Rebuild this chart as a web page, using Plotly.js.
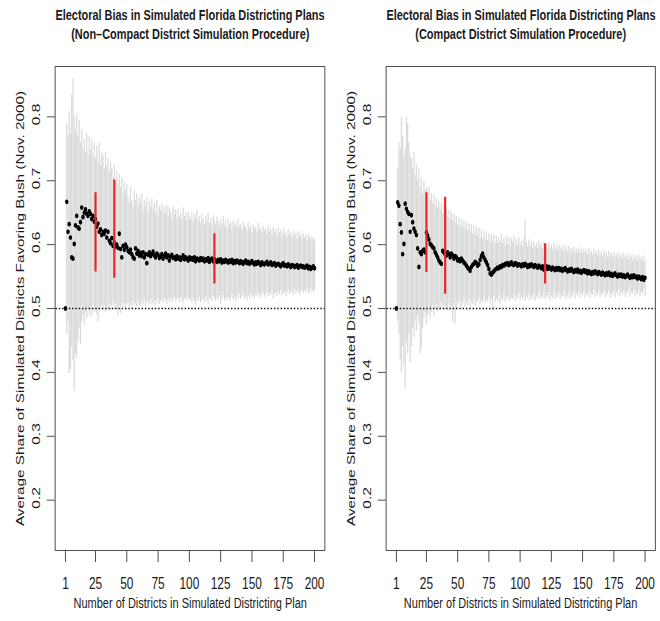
<!DOCTYPE html>
<html>
<head>
<meta charset="utf-8">
<script src="https://cdn.plot.ly/plotly-3.0.1.min.js"></script>
<style>
html,body{margin:0;padding:0;overflow:hidden;background:#fff;}
#chart{width:917px;height:621px;transform:scaleX(0.7197);transform-origin:0 0;}
</style>
</head>
<body>
<div id="chart"></div>
<script>
// ---- data ----
const districts = Array.from({length: 200}, (_, i) => i + 1);
const xTickVals = [1, 25, 50, 75, 100, 125, 150, 175, 200];
const yTickVals = [0.2, 0.3, 0.4, 0.5, 0.6, 0.7, 0.8];
const yTickText = ["0.2", "0.3", "0.4", "0.5", "0.6", "0.7", "0.8"];
const actualPlans = [25, 40, 120];

// Non-compact procedure
const ncMean = [
.500,.667,.620,.632,.611,.580,.578,.601,.630,.645,
.627,.625,.635,.658,.643,.650,.655,.648,.645,.652,
.648,.640,.645,.636,.640,.628,.633,.620,.624,.615,
.620,.617,.622,.611,.620,.606,.602,.610,.598,.603,
.597,.600,.595,.617,.593,.580,.598,.592,.600,.596,
.590,.588,.592,.585,.580,.578,.594,.586,.590,.583,
.587,.582,.588,.580,.585,.571,.584,.588,.582,.585,
.589,.583,.580,.586,.584,.579,.581,.585,.578,.582,
.586,.580,.583,.575,.581,.584,.579,.580,.577,.582,
.578,.580,.576,.579,.583,.577,.580,.578,.575,.580,
.577,.579,.576,.580,.574,.578,.577,.575,.579,.576,
.578,.574,.577,.575,.579,.573,.576,.578,.574,.577,
.575,.573,.576,.574,.577,.572,.575,.573,.576,.574,
.572,.575,.573,.576,.571,.574,.572,.575,.573,.571,
.574,.572,.570,.573,.575,.571,.573,.570,.572,.574,
.571,.569,.572,.570,.573,.571,.568,.572,.570,.569,
.571,.573,.569,.570,.572,.568,.570,.571,.567,.569,
.570,.568,.566,.569,.571,.567,.568,.566,.569,.567,
.565,.568,.567,.565,.566,.568,.564,.566,.567,.565,
.566,.564,.565,.567,.563,.565,.562,.564,.566,.563];
const ncHigh = [
.500,.790,.770,.810,.775,.835,.860,.800,.780,.805,
.770,.795,.760,.780,.750,.765,.745,.775,.740,.770,
.750,.765,.740,.760,.735,.755,.730,.760,.725,.745,
.740,.720,.745,.725,.735,.715,.730,.720,.705,.725,
.700,.715,.695,.710,.690,.705,.680,.700,.685,.695,
.675,.665,.690,.670,.660,.685,.670,.680,.660,.675,
.665,.680,.655,.670,.660,.675,.650,.668,.660,.672,
.655,.665,.650,.670,.645,.660,.655,.665,.648,.660,
.650,.662,.645,.658,.652,.640,.660,.648,.655,.642,
.656,.645,.650,.640,.658,.645,.650,.638,.652,.644,
.640,.650,.636,.648,.642,.655,.638,.645,.635,.648,
.640,.632,.645,.638,.650,.634,.642,.630,.646,.638,
.632,.644,.636,.628,.640,.633,.645,.630,.638,.626,
.640,.632,.636,.625,.638,.630,.634,.627,.640,.628,
.632,.624,.636,.628,.630,.622,.635,.626,.630,.620,
.632,.625,.628,.620,.634,.624,.627,.619,.630,.622,
.626,.618,.630,.621,.625,.616,.628,.620,.624,.615,
.627,.619,.622,.614,.625,.617,.621,.612,.624,.616,
.619,.612,.622,.615,.618,.610,.621,.613,.617,.609,
.618,.611,.615,.608,.617,.610,.613,.606,.612,.608];
const ncLow = [
.500,.460,.480,.398,.405,.440,.420,.372,.430,.424,
.450,.470,.445,.480,.490,.475,.495,.485,.500,.490,
.498,.488,.505,.495,.500,.492,.479,.502,.497,.505,
.498,.506,.494,.503,.500,.508,.497,.505,.510,.499,
.507,.500,.490,.504,.493,.510,.502,.508,.498,.506,
.511,.503,.508,.500,.512,.505,.509,.502,.513,.506,
.504,.511,.507,.514,.503,.509,.512,.506,.515,.508,
.510,.505,.513,.508,.516,.507,.511,.514,.509,.516,
.512,.507,.515,.510,.517,.509,.513,.518,.511,.514,
.516,.510,.518,.513,.509,.517,.514,.519,.512,.516,
.514,.508,.517,.511,.506,.515,.512,.518,.509,.513,
.516,.510,.519,.513,.507,.517,.514,.511,.520,.515,
.512,.518,.513,.520,.508,.516,.521,.512,.517,.514,
.519,.513,.517,.522,.514,.518,.511,.520,.516,.523,
.515,.519,.524,.516,.520,.513,.521,.517,.525,.518,
.520,.515,.523,.519,.525,.517,.522,.520,.526,.518,
.522,.527,.519,.524,.521,.528,.516,.523,.525,.520,
.526,.522,.529,.521,.524,.527,.519,.525,.530,.523,
.525,.528,.522,.531,.524,.526,.529,.521,.527,.530,
.524,.529,.526,.532,.523,.528,.531,.525,.529,.527];
const ncActualLow = [0.558, 0.548, 0.539];
const ncActualHigh = [0.682, 0.702, 0.618];

// Compact procedure
const cMean = [
.500,.666,.661,.632,.619,.585,.601,.664,.656,.651,
.648,.620,.646,.635,.625,.620,.615,.594,.565,.588,
.585,.590,.592,.588,.619,.614,.608,.601,.599,.596,
.594,.588,.584,.580,.575,.572,.570,.590,.588,.585,
.583,.588,.585,.580,.586,.583,.578,.582,.580,.575,
.577,.574,.578,.575,.572,.570,.567,.564,.562,.559,
.565,.568,.570,.573,.571,.567,.569,.576,.582,.586,
.580,.576,.572,.568,.562,.555,.553,.556,.558,.561,
.562,.564,.563,.566,.565,.568,.567,.570,.569,.571,
.568,.570,.572,.569,.568,.571,.570,.567,.569,.568,
.566,.569,.567,.570,.568,.565,.568,.566,.569,.567,
.565,.568,.566,.564,.567,.565,.563,.566,.561,.564,
.566,.562,.565,.563,.561,.564,.562,.560,.563,.561,
.563,.560,.562,.559,.561,.563,.560,.558,.561,.559,
.562,.559,.557,.560,.558,.561,.557,.559,.556,.558,
.560,.557,.559,.555,.558,.556,.554,.557,.555,.558,
.556,.554,.557,.555,.553,.556,.554,.552,.555,.553,
.556,.552,.554,.551,.553,.555,.552,.550,.553,.551,
.553,.550,.552,.549,.551,.553,.550,.548,.551,.549,
.552,.549,.550,.547,.550,.548,.546,.549,.545,.548];
const cHigh = [
.500,.720,.760,.750,.800,.770,.740,.750,.800,.790,
.760,.740,.735,.720,.745,.710,.725,.700,.720,.690,
.705,.680,.700,.685,.690,.675,.690,.670,.680,.665,
.678,.662,.672,.658,.668,.655,.665,.650,.662,.648,
.658,.645,.655,.640,.652,.638,.648,.635,.645,.632,
.642,.630,.640,.628,.638,.625,.636,.622,.633,.620,
.632,.618,.630,.616,.628,.615,.626,.612,.624,.610,
.622,.608,.620,.606,.618,.605,.616,.604,.615,.603,
.614,.603,.612,.605,.618,.602,.611,.600,.613,.601,
.612,.599,.610,.604,.615,.600,.609,.598,.612,.600,
.606,.598,.610,.640,.604,.597,.608,.600,.606,.596,
.605,.598,.603,.595,.607,.597,.602,.594,.604,.596,
.601,.593,.603,.595,.600,.592,.602,.594,.599,.591,
.600,.593,.597,.590,.599,.592,.596,.589,.598,.591,
.595,.588,.597,.590,.594,.587,.596,.589,.593,.586,
.594,.588,.592,.585,.595,.587,.591,.584,.593,.586,
.590,.583,.592,.585,.589,.582,.591,.584,.588,.581,
.590,.583,.587,.580,.589,.582,.586,.579,.588,.581,
.585,.578,.587,.580,.584,.577,.586,.579,.583,.576,
.585,.578,.582,.575,.584,.577,.581,.574,.583,.576];
const cLow = [
.500,.480,.460,.420,.400,.440,.410,.375,.450,.430,
.460,.416,.440,.470,.455,.480,.465,.490,.475,.430,
.440,.470,.485,.495,.475,.490,.500,.485,.495,.505,
.490,.500,.508,.495,.503,.498,.510,.500,.506,.497,
.505,.500,.509,.496,.503,.480,.507,.476,.500,.510,
.505,.512,.500,.508,.514,.503,.510,.506,.515,.502,
.511,.507,.516,.504,.512,.509,.517,.506,.513,.510,
.518,.508,.514,.511,.519,.507,.515,.497,.520,.509,
.516,.511,.521,.508,.517,.513,.522,.510,.518,.514,
.520,.512,.517,.515,.523,.511,.519,.516,.524,.513,
.518,.514,.522,.512,.519,.516,.524,.513,.520,.515,
.523,.512,.519,.516,.525,.514,.520,.517,.526,.515,
.521,.518,.525,.513,.520,.517,.526,.515,.522,.518,
.525,.514,.521,.519,.527,.516,.522,.518,.526,.515,
.522,.519,.527,.516,.523,.520,.528,.517,.524,.521,
.527,.516,.523,.520,.528,.517,.524,.521,.529,.518,
.525,.521,.528,.517,.524,.522,.529,.518,.525,.522,
.528,.517,.524,.521,.529,.518,.525,.522,.530,.519,
.526,.522,.529,.518,.525,.523,.530,.519,.526,.523,
.529,.518,.525,.522,.530,.519,.526,.524,.531,.520];
const cActualLow = [0.557, 0.523, 0.539];
const cActualHigh = [0.682, 0.675, 0.602];

// ---- build ----
function segments(xv, lo, hi) {
  const x = [], y = [];
  xv.forEach((v, i) => { x.push(v, v, null); y.push(lo[i], hi[i], null); });
  return {x, y};
}
const FONT = "Liberation Sans, Arial, Helvetica, sans-serif";
const INK = "#1a1a1a";
const GRAY = "#dadada";
const RED = "#e8262c";

function panel(mean, lo, hi, aLo, aHi, xa, ya) {
  const g = segments(districts, lo, hi);
  const r = segments(actualPlans, aLo, aHi);
  return [
    {type: "scatter", mode: "lines", x: g.x, y: g.y, xaxis: xa, yaxis: ya,
     line: {color: GRAY, width: 1.7}, connectgaps: false, hoverinfo: "skip", showlegend: false},
    {type: "scatter", mode: "markers", x: districts, y: mean, xaxis: xa, yaxis: ya,
     marker: {color: "#000", size: 4.8}, showlegend: false},
    {type: "scatter", mode: "lines", x: r.x, y: r.y, xaxis: xa, yaxis: ya,
     line: {color: RED, width: 3}, connectgaps: false, showlegend: false}
  ];
}

const data = [].concat(
  panel(ncMean, ncLow, ncHigh, ncActualLow, ncActualHigh, "x", "y"),
  panel(cMean, cLow, cHigh, cActualLow, cActualHigh, "x2", "y2")
);

const W = 917, H = 621;
const leftDom = [0.0841, 0.4917];
const rightDom = [0.5856, 0.9925];
const yDom = [0.1143, 0.8921];

function xAxis(dom, anchor) {
  return {domain: dom, anchor: anchor, range: [-6.96, 207.96], autorange: false,
    tickmode: "array", tickvals: xTickVals, ticktext: xTickVals.map(String),
    ticks: "outside", ticklen: 11, tickwidth: 1, tickcolor: "#333",
    showline: true, mirror: true, linecolor: "#333", linewidth: 1,
    showgrid: false, zeroline: false, ticklabelstandoff: 7,
    tickfont: {family: FONT, size: 16.5, color: INK}};
}
function yAxis(anchor) {
  return {domain: yDom, anchor: anchor, range: [0.122, 0.878], autorange: false,
    tickmode: "array", tickvals: yTickVals, ticktext: yTickText, tickangle: -90,
    ticks: "outside", ticklen: 11, tickwidth: 1, tickcolor: "#333",
    showline: true, mirror: true, linecolor: "#333", linewidth: 1,
    showgrid: false, zeroline: false, ticklabelstandoff: 4,
    tickfont: {family: FONT, size: 15.5, color: INK}};
}

function ann(text, x, y, opts) {
  return Object.assign({text: text, x: x, y: y, xref: "paper", yref: "paper",
    showarrow: false, xanchor: "center", yanchor: "middle",
    font: {family: FONT, size: 15.3, color: INK}}, opts || {});
}
const lc = (leftDom[0] + leftDom[1]) / 2, rc = (rightDom[0] + rightDom[1]) / 2;
const titleFont = {family: FONT, size: 15.2, color: INK, weight: "bold"};

const layout = {
  width: W, height: H, autosize: false,
  margin: {l: 0, r: 0, t: 0, b: 0},
  paper_bgcolor: "#fff", plot_bgcolor: "#fff",
  showlegend: false,
  xaxis: xAxis(leftDom, "y"), yaxis: yAxis("x"),
  xaxis2: xAxis(rightDom, "y2"), yaxis2: yAxis("x2"),
  shapes: [
    {type: "line", xref: "x domain", yref: "y", x0: 0, x1: 1, y0: 0.5, y1: 0.5,
     line: {color: "#111", width: 1.3, dash: "2px,2.6px"}, layer: "above"},
    {type: "line", xref: "x2 domain", yref: "y2", x0: 0, x1: 1, y0: 0.5, y1: 0.5,
     line: {color: "#111", width: 1.3, dash: "2px,2.6px"}, layer: "above"}
  ],
  annotations: [
    ann("<b>Electoral Bias in Simulated Florida Districting Plans</b>", lc, 1 - 15/H, {font: titleFont}),
    ann("<b>(Non\u2013Compact District Simulation Procedure)</b>", lc, 1 - 33/H, {font: titleFont}),
    ann("<b>Electoral Bias in Simulated Florida Districting Plans</b>", rc, 1 - 15/H, {font: titleFont}),
    ann("<b>(Compact District Simulation Procedure)</b>", rc, 1 - 33/H, {font: titleFont}),
    ann("Number of Districts in Simulated Districting Plan", lc, 1 - 602/H),
    ann("Number of Districts in Simulated Districting Plan", rc, 1 - 602/H),
    ann("Average Share of Simulated Districts Favoring Bush (Nov. 2000)", 20/0.7197/W, (yDom[0]+yDom[1])/2, {textangle: -90}),
    ann("Average Share of Simulated Districts Favoring Bush (Nov. 2000)", 351/0.7197/W, (yDom[0]+yDom[1])/2, {textangle: -90})
  ]
};

Plotly.newPlot("chart", data, layout, {staticPlot: true, displayModeBar: false});
</script>
</body>
</html>
